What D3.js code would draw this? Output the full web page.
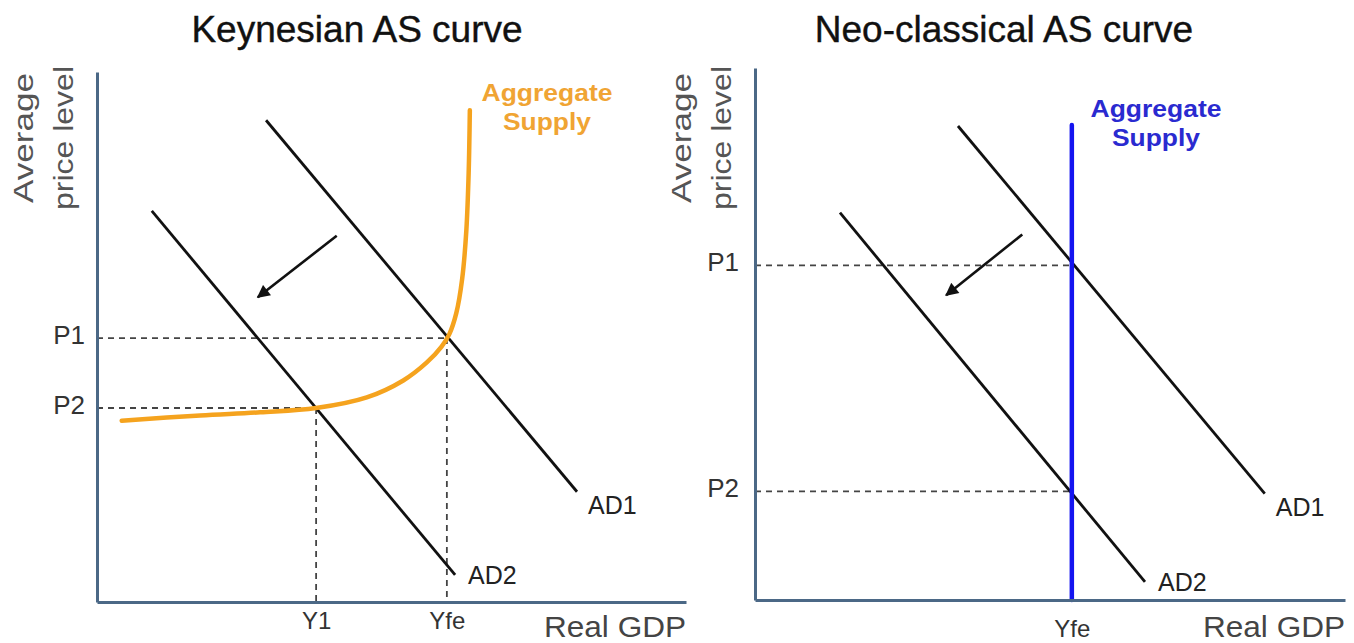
<!DOCTYPE html>
<html>
<head>
<meta charset="utf-8">
<script src="https://cdn.jsdelivr.net/npm/d3@7"></script>
<style>
  html, body { margin: 0; padding: 0; background: #fff; }
  svg { display: block; }
  text { font-family: "Liberation Sans", Arial, sans-serif; }
</style>
</head>
<body>
<svg id="chart" width="1354" height="643"></svg>
<script>
// ---------------- DATA ----------------
// Keynesian panel (units 0..10 on both axes)
const keyTitle = "Keynesian AS curve";
const keyPriceLabels = ["P1", "P2"];
const keyPriceValues = [4.98, 3.66];
const keyGdpLabels = ["Y1", "Yfe"];
const keyGdpValues = [3.72, 5.94];
const keyAD1 = [[2.87, 9.09], [8.15, 2.08]];
const keyAD2 = [[0.93, 7.38], [6.08, 0.51]];
const keyAS = [[0.42, 3.42], [1.75, 3.52], [2.77, 3.58], [3.72, 3.66], [4.58, 3.86],
               [5.20, 4.18], [5.60, 4.52], [5.85, 4.82], [5.98, 5.05], [6.10, 5.45],
               [6.20, 6.10], [6.27, 7.00], [6.31, 8.10], [6.33, 9.28]];
const keyArrow = [[4.07, 6.91], [2.73, 5.75]];

// Neo-classical panel
const neoTitle = "Neo-classical AS curve";
const neoPriceLabels = ["P1", "P2"];
const neoPriceValues = [6.29, 2.04];
const neoGdpLabels = ["Yfe"];
const neoGdpValues = [5.37];
const neoAD1 = [[3.44, 8.91], [8.64, 2.00]];
const neoAD2 = [[1.44, 7.28], [6.61, 0.34]];
const neoAS = [[5.37, 0], [5.37, 8.93]];
const neoArrow = [[4.53, 6.87], [3.24, 5.73]];

const yAxisLabel = ["Average", "price level"];
const xAxisLabel = "Real GDP";
const asLabel = ["Aggregate", "Supply"];

// ---------------- DRAW ----------------
const svg = d3.select("#chart");
const defs = svg.append("defs");
defs.append("marker")
  .attr("id", "arrowhead").attr("viewBox", "0 0 10 10")
  .attr("refX", 9).attr("refY", 5)
  .attr("markerWidth", 5.5).attr("markerHeight", 5)
  .attr("orient", "auto")
  .append("path").attr("d", "M0,0 L10,5 L0,10 Z").attr("fill", "#111");

const axisColor = "#4b6886";
const dashColor = "#444";
const line = d3.line();

function panel(cfg) {
  const x = d3.scaleLinear().domain([0, 10]).range(cfg.xr);
  const y = d3.scaleLinear().domain([0, 10]).range(cfg.yr);
  const g = svg.append("g");

  // title
  g.append("text").attr("x", cfg.titleX).attr("y", 42)
    .attr("text-anchor", "middle").attr("font-size", 37).attr("fill", "#111")
    .attr("stroke", "#111").attr("stroke-width", 0.4)
    .text(cfg.title);

  // y axis label (two lines, rotated)
  [[cfg.xr[0] - 64, yAxisLabel[0], 130], [cfg.xr[0] - 24, yAxisLabel[1], 144]].forEach(([bx, t, len]) => {
    g.append("text")
      .attr("transform", `translate(${bx},${138}) rotate(-90)`)
      .attr("text-anchor", "middle").attr("font-size", 27).attr("fill", "#555")
      .attr("textLength", len).attr("lengthAdjust", "spacingAndGlyphs")
      .text(t);
  });

  // dashed guides
  const dashes = g.append("g").attr("stroke", dashColor).attr("stroke-width", 1.8)
    .attr("stroke-dasharray", "6,5").attr("fill", "none");
  cfg.guides.forEach(seg => {
    dashes.append("path").attr("d", line(seg.map(p => [x(p[0]), y(p[1])])));
  });

  // AD lines
  [cfg.ad1, cfg.ad2].forEach(d => {
    g.append("path").attr("d", line(d.map(p => [x(p[0]), y(p[1])])))
      .attr("stroke", "#111").attr("stroke-width", 2.8).attr("fill", "none");
  });

  // AS curve
  g.append("path")
    .attr("d", d3.line().curve(cfg.asCurve).x(p => x(p[0])).y(p => y(p[1]))(cfg.as))
    .attr("stroke", cfg.asColor).attr("stroke-width", cfg.asWidth).attr("fill", "none")
    .attr("stroke-linecap", "round");

  // arrow
  g.append("path").attr("d", line(cfg.arrow.map(p => [x(p[0]), y(p[1])])))
    .attr("stroke", "#111").attr("stroke-width", 2.6).attr("fill", "none")
    .attr("marker-end", "url(#arrowhead)");

  // axes
  const yAxis = d3.axisLeft(y).tickValues(cfg.priceValues)
    .tickFormat((d, i) => cfg.priceLabels[i]).tickSize(0).tickSizeOuter(0).tickPadding(cfg.yPad);
  const ya = g.append("g").attr("transform", `translate(${cfg.xr[0]},0)`).call(yAxis);
  const xAxis = d3.axisBottom(x).tickValues(cfg.gdpValues)
    .tickFormat((d, i) => cfg.gdpLabels[i]).tickSize(0).tickSizeOuter(0).tickPadding(cfg.xPad);
  const xa = g.append("g").attr("transform", `translate(0,${cfg.yr[0]})`).call(xAxis);
  [ya, xa].forEach(a => {
    a.select(".domain").attr("stroke", axisColor).attr("stroke-width", 3);
    a.selectAll("text").attr("font-family", "Liberation Sans, Arial, sans-serif").attr("fill", "#333");
  });
  ya.selectAll("text").attr("font-size", 26).attr("dy", "0.2em");
  xa.selectAll("text").attr("font-size", 24);

  // x axis label
  g.append("text").attr("x", cfg.xr[1]).attr("y", cfg.gdpLabelY)
    .attr("text-anchor", "end").attr("font-size", 29).attr("fill", "#444")
    .attr("textLength", 142).attr("lengthAdjust", "spacingAndGlyphs")
    .text(xAxisLabel);

  // AD labels
  const ad1End = cfg.ad1[1], ad2End = cfg.ad2[1];
  g.append("text").attr("x", x(ad1End[0]) + 11).attr("y", y(ad1End[1]) + 22)
    .attr("font-size", 25).attr("fill", "#222").text("AD1");
  g.append("text").attr("x", x(ad2End[0]) + 13).attr("y", y(ad2End[1]) + 9)
    .attr("font-size", 25).attr("fill", "#222").text("AD2");

  // AS label
  asLabel.forEach((t, i) => {
    g.append("text").attr("x", cfg.asLabelX).attr("y", cfg.asLabelY + i * 29)
      .attr("text-anchor", "middle").attr("font-size", 23).attr("font-weight", "bold")
      .attr("font-family", "DejaVu Sans, Verdana, sans-serif")
      .attr("textLength", i === 0 ? 131 : 88).attr("lengthAdjust", "spacingAndGlyphs")
      .attr("fill", cfg.asTextColor).text(t);
  });
}

panel({
  title: keyTitle, titleX: 357,
  xr: [97, 686], yr: [602, 72],
  priceLabels: keyPriceLabels, priceValues: keyPriceValues,
  gdpLabels: keyGdpLabels, gdpValues: keyGdpValues,
  ad1: keyAD1, ad2: keyAD2, as: keyAS, arrow: keyArrow,
  asCurve: d3.curveCatmullRom.alpha(0.5), asColor: "#f5a31e", asWidth: 4.5, asTextColor: "#f0a433",
  asLabelX: 547, asLabelY: 101,
  guides: [
    [[0, keyPriceValues[0]], [keyGdpValues[1], keyPriceValues[0]]],
    [[keyGdpValues[1], keyPriceValues[0]], [keyGdpValues[1], 0]],
    [[0, keyPriceValues[1]], [keyGdpValues[0], keyPriceValues[1]]],
    [[keyGdpValues[0], keyPriceValues[1]], [keyGdpValues[0], 0]]
  ],
  yPad: 12, xPad: 10, gdpLabelY: 637
});

panel({
  title: neoTitle, titleX: 1004,
  xr: [755, 1345], yr: [600, 68],
  priceLabels: neoPriceLabels, priceValues: neoPriceValues,
  gdpLabels: neoGdpLabels, gdpValues: neoGdpValues,
  ad1: neoAD1, ad2: neoAD2, as: neoAS, arrow: neoArrow,
  asCurve: d3.curveLinear, asColor: "#1414f0", asWidth: 4.5, asTextColor: "#2a2ad0",
  asLabelX: 1156, asLabelY: 117,
  guides: [
    [[0, neoPriceValues[0]], [neoGdpValues[0], neoPriceValues[0]]],
    [[0, neoPriceValues[1]], [neoGdpValues[0], neoPriceValues[1]]]
  ],
  yPad: 16, xPad: 20, gdpLabelY: 637
});
</script>
</body>
</html>
